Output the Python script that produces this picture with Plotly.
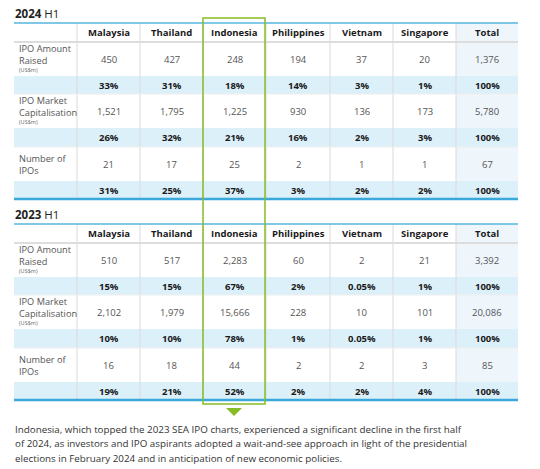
import plotly.graph_objects as go

# ---------------- data ----------------
countries = ["Malaysia", "Thailand", "Indonesia", "Philippines", "Vietnam", "Singapore", "Total"]
metric_labels = ["IPO Amount<br>Raised", "IPO Market<br>Capitalisation", "Number of<br>IPOs"]
metric_units = ["(US$m)", "(US$m)", ""]

amount_2024 = [450, 427, 248, 194, 37, 20, 1376]
amount_share_2024 = [33, 31, 18, 14, 3, 1, 100]
mcap_2024 = [1521, 1795, 1225, 930, 136, 173, 5780]
mcap_share_2024 = [26, 32, 21, 16, 2, 3, 100]
ipos_2024 = [21, 17, 25, 2, 1, 1, 67]
ipos_share_2024 = [31, 25, 37, 3, 2, 2, 100]

amount_2023 = [510, 517, 2283, 60, 2, 21, 3392]
amount_share_2023 = [15, 15, 67, 2, 0.05, 1, 100]
mcap_2023 = [2102, 1979, 15666, 228, 10, 101, 20086]
mcap_share_2023 = [10, 10, 78, 1, 0.05, 1, 100]
ipos_2023 = [16, 18, 44, 2, 2, 3, 85]
ipos_share_2023 = [19, 21, 52, 2, 2, 4, 100]

highlight_country = "Indonesia"

note_lines = [
    "Indonesia, which topped the 2023 SEA IPO charts, experienced a significant decline in the first half",
    "of 2024, as investors and IPO aspirants adopted a wait-and-see approach in light of the presidential",
    "elections in February 2024 and in anticipation of new economic policies.",
]

tables = [
    ("2024", [amount_2024, mcap_2024, ipos_2024], [amount_share_2024, mcap_share_2024, ipos_share_2024]),
    ("2023", [amount_2023, mcap_2023, ipos_2023], [amount_share_2023, mcap_share_2023, ipos_share_2023]),
]

# ---------------- layout / style ----------------
FONT = "Open Sans"
X_EDGES = [14, 77, 140, 203, 266, 330, 393, 456, 518]
ROW_H = [19, 34, 18, 34, 19, 34, 18]
TABLE_TOPS = [23, 224]
SHARE_FILL = "#DCF0FA"
TOTAL_FILL = "#EEF6FC"
GRID = "#D9D9D9"
BLUE_TOP = "#55B6E0"
BLUE_BOT = "#3AA8DB"
GREEN = "#86BC25"

shapes = []
annotations = []


def ann(x, y, text, size=9.5, color="#555555", xanchor="center"):
    annotations.append(dict(x=x, y=y, xref="x", yref="y", text=text, showarrow=False,
                            xanchor=xanchor, yanchor="middle", borderpad=0,
                            align="left" if xanchor == "left" else "center",
                            font=dict(family=FONT, size=size, color=color)))


def fmt_share(p):
    return f"{p:g}%"


for (year, vals, shares), top in zip(tables, TABLE_TOPS):
    edges = [top]
    for h in ROW_H:
        edges.append(edges[-1] + h)
    left, right = X_EDGES[0], X_EDGES[-1]
    # total column background
    shapes.append(dict(type="rect", xref="x", yref="y", x0=X_EDGES[-2], x1=right,
                       y0=edges[0], y1=edges[-1], fillcolor=TOTAL_FILL, line_width=0, layer="below"))
    # share rows background
    for r in (2, 4, 6):
        shapes.append(dict(type="rect", xref="x", yref="y", x0=left, x1=right,
                           y0=edges[r], y1=edges[r + 1], fillcolor=SHARE_FILL, line_width=0, layer="below"))
    # vertical grid
    for xe in X_EDGES[1:-1]:
        shapes.append(dict(type="line", xref="x", yref="y", x0=xe, x1=xe, y0=edges[0], y1=edges[-1],
                           line=dict(color=GRID, width=1), layer="below"))
    # header bottom rule
    shapes.append(dict(type="line", xref="x", yref="y", x0=left, x1=right, y0=edges[1], y1=edges[1],
                       line=dict(color="#DDDDDD", width=2), layer="below"))
    # thin rule between share row and following value row
    for r in (3, 5):
        shapes.append(dict(type="line", xref="x", yref="y", x0=left, x1=right, y0=edges[r], y1=edges[r],
                           line=dict(color="#EEEEEE", width=1), layer="below"))
    # top / bottom blue rules
    shapes.append(dict(type="line", xref="x", yref="y", x0=left, x1=right, y0=edges[0], y1=edges[0],
                       line=dict(color=BLUE_TOP, width=1.5)))
    shapes.append(dict(type="line", xref="x", yref="y", x0=left, x1=right, y0=edges[-1], y1=edges[-1],
                       line=dict(color=BLUE_BOT, width=2.5)))
    # title
    ann(left, top - 10, f"<b>{year}</b> H1", size=11.5, color="#222222", xanchor="left")
    # header
    centers = [(X_EDGES[i + 1] + X_EDGES[i + 2]) / 2 for i in range(len(countries))]
    hy = (edges[0] + edges[1]) / 2
    for c, name in zip(centers, countries):
        ann(c, hy, f"<b>{name}</b>", size=9.5, color="#1A1A1A")
    # body
    for m in range(3):
        r_val = 1 + 2 * m
        y0, y1 = edges[r_val], edges[r_val + 1]
        yc = (y0 + y1) / 2
        if metric_units[m]:
            ann(left + 3.5, y0 + 12.5, metric_labels[m], size=9.2, color="#555555", xanchor="left")
            ann(left + 3.5, y0 + 28, metric_units[m], size=5.5, color="#666666", xanchor="left")
        else:
            ann(left + 3.5, yc, metric_labels[m], size=9.2, color="#555555", xanchor="left")
        for c, v in zip(centers, vals[m]):
            ann(c, yc, f"{v:,}", size=9.5, color="#555555")
        ys = (edges[r_val + 1] + edges[r_val + 2]) / 2
        for c, p in zip(centers, shares[m]):
            ann(c, ys, f"<b>{fmt_share(p)}</b>", size=9.5, color="#1A1A1A")

# highlight box around the highlighted country column
hi = countries.index(highlight_country)
hx0, hx1 = X_EDGES[hi + 1], X_EDGES[hi + 2] - 1
shapes.append(dict(type="rect", xref="x", yref="y", x0=hx0, x1=hx1, y0=18, y1=404,
                   line=dict(color=GREEN, width=1.5), fillcolor="rgba(0,0,0,0)"))
hc = (hx0 + hx1) / 2
shapes.append(dict(type="path", xref="x", yref="y",
                   path=f"M {hc-8},408 L {hc+8},408 L {hc},416 Z",
                   fillcolor=GREEN, line_width=0))

# note text
for i, line in enumerate(note_lines):
    ann(14, 429 + i * 14.5, line, size=9.8, color="#333333", xanchor="left")

fig = go.Figure()
fig.update_layout(
    width=540, height=469,
    margin=dict(l=0, r=0, t=0, b=0),
    paper_bgcolor="white", plot_bgcolor="white",
    xaxis=dict(range=[0, 540], visible=False, fixedrange=True),
    yaxis=dict(range=[469, 0], visible=False, fixedrange=True),
    shapes=shapes, annotations=annotations, showlegend=False,
)
fig.write_html("out.html", config={"displayModeBar": False},
               post_script="document.body.style.margin='0';")
